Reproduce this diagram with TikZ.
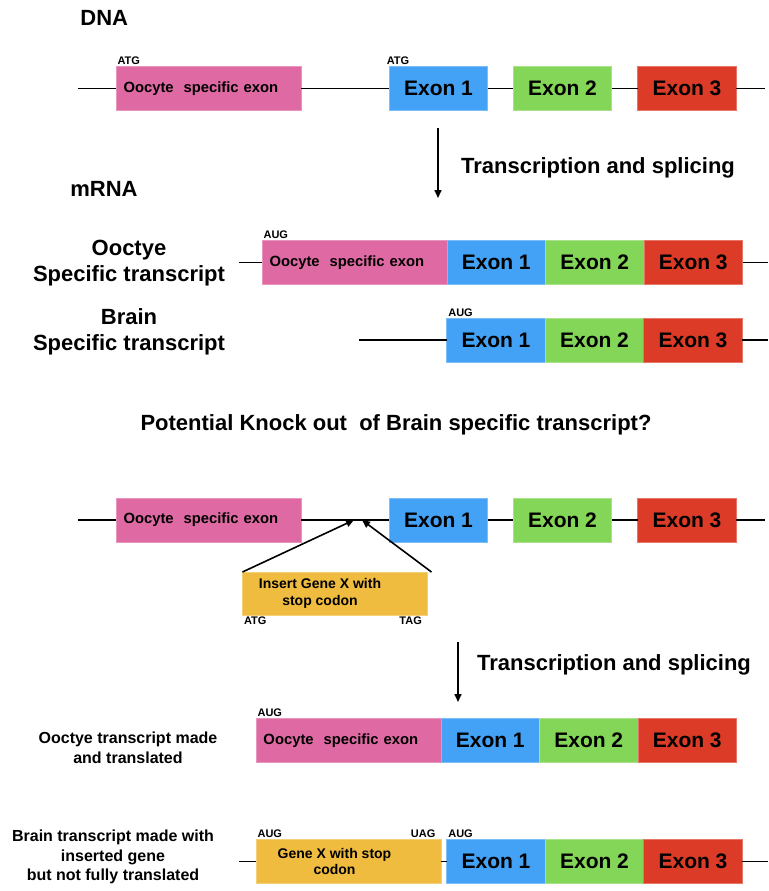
\documentclass[tikz,border=0pt]{standalone}
\usepackage{fontspec}
\setmainfont{Liberation Sans}
\usepackage{tikz}
\usetikzlibrary{arrows.meta, positioning}
\usepackage{xcolor}
\definecolor{oocyte}{HTML}{DF69A3}
\definecolor{exonA}{HTML}{43A2F6}
\definecolor{exonB}{HTML}{84D658}
\definecolor{exonC}{HTML}{DB3B27}
\definecolor{genex}{HTML}{F0BC40}
\newcommand{\headfont}{\bfseries\fontsize{11}{13}\selectfont}
\newcommand{\exonfont}{\bfseries\fontsize{10.5}{12}\selectfont}
\newcommand{\boxfont}{\bfseries\fontsize{7.4}{9}\selectfont}
\newcommand{\genefont}{\bfseries\fontsize{7}{8.3}\selectfont}
\newcommand{\codonfont}{\bfseries\fontsize{5.5}{6.5}\selectfont}
\newcommand{\sidefont}{\bfseries\fontsize{8}{9.8}\selectfont}

\begin{document}
\begin{tikzpicture}[
    x=0.5pt, y=-0.5pt,
    node distance=0pt,
    exon/.style={draw=#1!70!white, fill=#1, minimum width=49.25pt, minimum height=22pt, inner sep=0pt, outer sep=0pt, font=\exonfont},
    oobox/.style={draw=oocyte!70!white, fill=oocyte, text width=85pt, inner xsep=3.75pt, inner ysep=0pt, outer sep=0pt, minimum height=22pt, align=left, font=\boxfont},
    genebox/.style={draw=genex!70!white, fill=genex, minimum width=92.5pt, minimum height=21.5pt, inner sep=0pt, outer sep=0pt},
    genetext/.style={font=\genefont, align=center, inner sep=0pt},
    codon/.style={font=\codonfont, inner sep=0.6pt},
    heading/.style={font=\headfont, inner sep=0pt, align=center},
    side/.style={font=\sidefont, inner sep=0pt, align=center},
    strand/.style={line width=0.8pt},
    arr/.style={line width=0.8pt, -{Triangle[length=4pt, width=3.5pt]}}
]
\useasboundingbox (0,0) rectangle (768,891);
% genomic locus
\node[heading, anchor=west] (dna) at (80,18) {DNA};
\node[oobox] (ooc) at (208.5,88.5) {Oocyte\ \ specific exon};
\node[exon=exonA] (e1) at (438.5,88.5) {Exon 1};
\node[exon=exonB] (e2) at (562.5,88.5) {Exon 2};
\node[exon=exonC] (e3) at (687,88.5) {Exon 3};
\coordinate (d0) at (78,88.5);
\coordinate (d9) at (765,88.5);
\draw[strand] (d0) -- (ooc) -- (e1) -- (e2) -- (e3) -- (d9);
\node[codon, anchor=south west] (atg1) at (ooc.north west) {ATG};
\node[codon, anchor=south west] (atg2) at ([xshift=-2pt]e1.north west) {ATG};
% first processing step
\coordinate (t1a) at (438,128);
\coordinate (t1b) at (438,198);
\draw[arr] (t1a) -- (t1b);
\node[heading] (ts1) at (598,168) {Transcription and splicing};
\node[heading, anchor=west] (mrna) at (70,189) {mRNA};
% two transcripts
\node[oobox] (mo) at (354.5,262.5) {Oocyte\ \ specific exon};
\node[exon=exonA, right=of mo] (mo1) {Exon 1};
\node[exon=exonB, right=of mo1] (mo2) {Exon 2};
\node[exon=exonC, right=of mo2] (mo3) {Exon 3};
\coordinate (mo0) at (239,262.5);
\coordinate (mo9) at (768,262.5);
\draw[strand] (mo0) -- (mo);
\draw[strand] (mo3) -- (mo9);
\node[codon, anchor=south west] (aug1) at (mo.north west) {AUG};
\node[heading] (lo) at (129,263) {Ooctye\\Specific transcript};

\node[exon=exonA] (mb1) at (496,340) {Exon 1};
\node[exon=exonB, right=of mb1] (mb2) {Exon 2};
\node[exon=exonC, right=of mb2] (mb3) {Exon 3};
\coordinate (mb0) at (359,340);
\coordinate (mb9) at (768,340);
\draw[strand] (mb0) -- (mb1);
\draw[strand] (mb3) -- (mb9);
\node[codon, anchor=south west] (aug2) at (mb1.north west) {AUG};
\node[heading] (lb) at (129,332) {Brain\\Specific transcript};

\node[heading] (ko) at (396,425) {Potential Knock out\ \ of Brain specific transcript?};
% knock-in locus
\node[oobox] (kooc) at (208.5,520) {Oocyte\ \ specific exon};
\node[exon=exonA] (ke1) at (438.5,520) {Exon 1};
\node[exon=exonB] (ke2) at (562.5,520) {Exon 2};
\node[exon=exonC] (ke3) at (687,520) {Exon 3};
\coordinate (k0) at (78,520);
\coordinate (k9) at (765,520);
\draw[strand] (k0) -- (kooc) -- (ke1) -- (ke2) -- (ke3) -- (k9);
\node[genebox] (ins) at (335,593.5) {};
\node[genetext] (instxt) at ([xshift=-7.5pt]ins.center) {Insert Gene X with\\stop codon};
\coordinate (kl) at (354,520);
\coordinate (kr) at (362,520);
\draw[arr] (ins.north west) -- (kl);
\draw[arr] ([xshift=2pt]ins.north east) -- (kr);
\node[codon, anchor=north west] (atg3) at (ins.south west) {ATG};
\node[codon, anchor=north east] (tag3) at ([xshift=-2pt]ins.south east) {TAG};
% second processing step
\coordinate (t2a) at (458,642);
\coordinate (t2b) at (458,702);
\draw[arr] (t2a) -- (t2b);
\node[heading] (ts2) at (614,665) {Transcription and splicing};
% resulting transcripts
\node[oobox] (ro) at (348.5,740.5) {Oocyte\ \ specific exon};
\node[exon=exonA, right=of ro] (ro1) {Exon 1};
\node[exon=exonB, right=of ro1] (ro2) {Exon 2};
\node[exon=exonC, right=of ro2] (ro3) {Exon 3};
\node[codon, anchor=south west] (aug3) at (ro.north west) {AUG};
\node[side] (lro) at (128,748) {Ooctye transcript made\\and translated};

\node[genebox, minimum height=22pt] (rg) at (348.5,861.5) {};
\node[genetext] (rgtxt) at ([xshift=-7pt]rg.center) {Gene X with stop\\codon};
\node[exon=exonA] (rb1) at (496,861.5) {Exon 1};
\node[exon=exonB, right=of rb1] (rb2) {Exon 2};
\node[exon=exonC, right=of rb2] (rb3) {Exon 3};
\coordinate (rb0) at (239,861.5);
\coordinate (rb9) at (768,861.5);
\draw[strand] (rb0) -- (rg) -- (rb1);
\draw[strand] (rb3) -- (rb9);
\node[codon, anchor=south west] (aug4) at (rg.north west) {AUG};
\node[codon, anchor=south east] (uag4) at ([xshift=-2pt]rg.north east) {UAG};
\node[codon, anchor=south west] (aug5) at (rb1.north west) {AUG};
\node[side] (lrb) at (113,857) {Brain transcript made with\\inserted gene\\but not fully translated};
\end{tikzpicture}
\end{document}
